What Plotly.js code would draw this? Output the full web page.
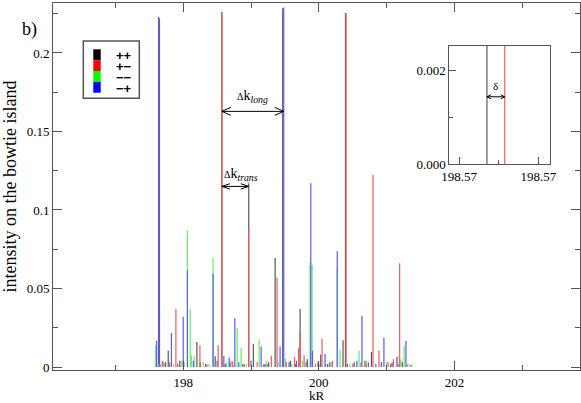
<!DOCTYPE html>
<html>
<head>
<meta charset="utf-8">
<script src="https://cdn.plot.ly/plotly-3.0.1.min.js"></script>
<style>
  html, body { margin: 0; padding: 0; background: #fff; }
  #plot { width: 581px; height: 403px; }
</style>
</head>
<body>
<div id="plot"></div>
<script>
"use strict";

// ── Series: spin configurations, stem positions (kR) and intensities ──
const seriesNames = ["++", "+\u2212", "\u2212\u2212", "\u2212+"];
const seriesColors = ["#000000", "#ff0000", "#00ff00", "#0000ff"];
// stems are drawn in a lighter tint, as the anti-aliased hairlines look
const stemColors = ["#585858", "#f25a5a", "#5ef05e", "#5a5af2"];

// ++ (black)
const kPP = [197.600, 197.638, 197.740, 197.779, 197.950, 198.202, 198.250, 198.471,
             198.56994, 198.620, 198.690, 198.966, 199.034, 199.190, 199.260, 199.355,
             199.467, 199.580, 199.660, 199.723, 199.830, 199.988, 200.027, 200.130,
             200.356, 200.392, 200.520, 200.680, 200.775, 200.920, 201.060, 201.152, 201.230];
const hPP = [0.002, 0.223, 0.003, 0.0104, 0.004, 0.016, 0.003, 0.0068,
             0.2262, 0.002, 0.003, 0.117, 0.0148, 0.002, 0.003, 0.0694,
             0.2285, 0.004, 0.002, 0.037, 0.005, 0.003, 0.008, 0.002,
             0.017, 0.2255, 0.003, 0.004, 0.0096, 0.003, 0.002, 0.0066, 0.003];

// +- (red)
const kPM = [197.660, 197.691, 197.800, 197.892, 198.010, 198.246, 198.350, 198.515,
             198.57003, 198.720, 198.732, 198.900, 198.966, 199.090, 199.210, 199.299,
             199.384, 199.520, 199.641, 199.700, 199.723, 199.782, 199.950, 200.047,
             200.200, 200.401, 200.500, 200.620, 200.700, 200.798, 200.886, 201.020,
             201.100, 201.191, 201.300];
const hPM = [0.002, 0.004, 0.003, 0.037, 0.003, 0.0138, 0.002, 0.0138,
             0.2245, 0.004, 0.003, 0.002, 0.0877, 0.003, 0.002, 0.0072,
             0.057, 0.003, 0.0065, 0.012, 0.022, 0.0075, 0.002, 0.018,
             0.004, 0.2255, 0.002, 0.003, 0.002, 0.1225, 0.0105, 0.003,
             0.005, 0.066, 0.002];

// -- (green)
const kMM = [197.594, 197.630, 197.720, 197.860, 197.980, 198.062, 198.103, 198.120,
             198.162, 198.295, 198.380, 198.440, 198.640, 198.795, 198.854, 198.930,
             199.119, 199.230, 199.400, 199.508, 199.600, 199.760, 199.870, 199.900,
             200.100, 200.180, 200.271, 200.312, 200.460, 200.592, 200.700, 201.000,
             201.210, 201.257, 201.330];
const hMM = [0.0135, 0.002, 0.003, 0.002, 0.004, 0.0868, 0.037, 0.0075,
             0.007, 0.003, 0.002, 0.0696, 0.003, 0.0248, 0.0122, 0.002,
             0.0174, 0.004, 0.003, 0.0055, 0.002, 0.004, 0.0666, 0.065,
             0.002, 0.003, 0.0626, 0.011, 0.002, 0.0105, 0.004, 0.003,
             0.005, 0.0136, 0.002];

// -+ (blue)
const kMP = [197.608, 197.650, 197.700, 197.826, 197.920, 198.000, 198.062, 198.150,
             198.330, 198.440, 198.500, 198.599, 198.677, 198.761, 198.820, 198.880,
             199.000, 199.149, 199.250, 199.428, 199.482, 199.560, 199.670, 199.811,
             199.881, 199.906, 200.000, 200.091, 200.160, 200.271, 200.420, 200.560,
             200.635, 200.730, 200.840, 200.959, 201.080, 201.180, 201.284, 201.361];
const hMP = [0.0167, 0.222, 0.003, 0.0217, 0.002, 0.032, 0.0615, 0.004,
             0.002, 0.0594, 0.004, 0.007, 0.006, 0.031, 0.003, 0.002,
             0.004, 0.013, 0.002, 0.013, 0.229, 0.003, 0.004, 0.003,
             0.117, 0.0104, 0.002, 0.0085, 0.003, 0.0737, 0.002, 0.004,
             0.0327, 0.003, 0.002, 0.0187, 0.003, 0.002, 0.0168, 0.0015];

const seriesK = [kPP, kPM, kMM, kMP];
const seriesH = [hPP, hPM, hMM, hMP];
const drawOrder = [0, 2, 3, 1];

// ── frame geometry (pixels of the 581x403 page) ──
const ML = 53, MT = 3, PW = 527, PH = 367;
const px = p => (p - ML) / PW;
const py = p => (MT + PH - p) / PH;

const xRange = [196.08, 203.85], yRange = [-0.0019, 0.2318];
const inX = [449.3, 550.3], inY = [45.7, 164.3];
const x2Range = [198.56975, 198.57026], y2Range = [0, 0.00253];

function stems(ks, hs) {
    const x = [], y = [];
    ks.forEach((k, i) => { x.push(k, k, null); y.push(0, hs[i], null); });
    return { x, y };
}

const traces = [];
["", "2"].forEach(ax => {
    drawOrder.forEach(s => {
        const st = stems(seriesK[s], seriesH[s]);
        traces.push({
            type: "scatter", mode: "lines",
            x: st.x, y: st.y,
            xaxis: "x" + ax, yaxis: "y" + ax,
            line: { color: stemColors[s], width: 1.2 },
            showlegend: false, hoverinfo: "skip",
        });
    });
});

const serif = "Liberation Serif, Times New Roman, serif";
const frame = "#555555";

// double-headed arrow with open chevron heads, as a path in data coords
function dblArrow(x0, x1, y, xref, yref, kpp, hpp, len, half) {
    const d = "M" + x0 + "," + y + "L" + x1 + "," + y +
        "M" + (x0 + len * kpp) + "," + (y + half * hpp) + "L" + x0 + "," + y +
        "L" + (x0 + len * kpp) + "," + (y - half * hpp) +
        "M" + (x1 - len * kpp) + "," + (y + half * hpp) + "L" + x1 + "," + y +
        "L" + (x1 - len * kpp) + "," + (y - half * hpp);
    return { type: "path", xref: xref, yref: yref, path: d,
             line: { color: "#000", width: 1 } };
}
const kpp1 = (xRange[1] - xRange[0]) / PW, hpp1 = (yRange[1] - yRange[0]) / PH;
const kpp2 = (x2Range[1] - x2Range[0]) / (inX[1] - inX[0]);
const hpp2 = (y2Range[1] - y2Range[0]) / (inY[1] - inY[0]);

const kRedTall = kPM[8], kBlueTall = kMP[20], kTrans = kPP[11];

const shapes = [
    dblArrow(kRedTall, kBlueTall, 0.1628, "x", "y", kpp1, hpp1, 9, 4),
    dblArrow(kRedTall, kTrans, 0.115, "x", "y", kpp1, hpp1, 8, 2.7),
    dblArrow(kPP[8], kPM[8], 0.00144, "x2", "y2", kpp2, hpp2, 4, 2),
];

const annotations = [
    { x: (kRedTall + kBlueTall) / 2, y: 0.1722, xref: "x", yref: "y",
      text: "<span style=\"font-size:10px\">\u0394</span>k<sub><i>long</i></sub>",
      showarrow: false, font: { family: serif, size: 14, color: "#000" } },
    { x: kRedTall, y: 0.1229, xref: "x", yref: "y", xanchor: "left",
      text: "<span style=\"font-size:10px\">\u0394</span>k<sub><i>trans</i></sub>",
      showarrow: false, font: { family: serif, size: 14, color: "#000" } },
    { x: (kPP[8] + kPM[8]) / 2, y: 0.00168, xref: "x2", yref: "y2",
      text: "\u03b4", showarrow: false, font: { family: serif, size: 11, color: "#000" } },
    { x: px(20), y: py(17), xref: "paper", yref: "paper", xanchor: "left",
      text: "b)", showarrow: false, font: { family: serif, size: 18, color: "#000" } },
];

// ── hand-made legend: tall colour swatches stacked in a box ──
shapes.push({
    type: "rect", xref: "paper", yref: "paper",
    x0: px(83.3), x1: px(139.3), y0: py(98.3), y1: py(41),
    line: { color: frame, width: 1.5 }, fillcolor: "#fff", layer: "below",
});
const rowTop = 49.3, rowH = 10.85;
seriesNames.forEach((name, i) => {
    const t = rowTop + i * rowH;
    shapes.push({
        type: "rect", xref: "paper", yref: "paper",
        x0: px(93.3), x1: px(100.7), y0: py(t + rowH), y1: py(t),
        line: { width: 0 }, fillcolor: seriesColors[i],
    });
});
// one text block; base size sets the row pitch, the spans set the glyph size
annotations.push({
    x: px(114), y: py(rowTop + 2 * rowH + 0.5), xref: "paper", yref: "paper",
    xanchor: "left", yanchor: "middle", showarrow: false, align: "left",
    text: seriesNames.map(n => "<span style=\"font-size:13px\"><b>" + n + "</b></span>").join("<br>"),
    font: { family: "Liberation Sans, Arial, sans-serif", size: rowH / 1.3, color: "#000" },
});

const baseAxis = {
    showline: true, linecolor: frame, linewidth: 1, mirror: "ticks",
    ticks: "inside", tickcolor: frame, ticklen: 9, tickwidth: 1,
    showgrid: false, zeroline: false,
    tickfont: { family: serif, size: 13, color: "#000" },
};

const layout = {
    width: 581, height: 403,
    margin: { l: ML, r: 581 - ML - PW, t: MT, b: 403 - MT - PH },
    paper_bgcolor: "#fff", plot_bgcolor: "#fff",
    showlegend: false,
    xaxis: Object.assign({}, baseAxis, {
        range: xRange, tickvals: [198, 200, 202],
        minor: { tickvals: [197, 199, 201, 203], ticklen: 5, ticks: "inside", tickcolor: frame },
        title: { text: "kR", font: { family: serif, size: 13, color: "#000" }, standoff: 6 },
    }),
    yaxis: Object.assign({}, baseAxis, {
        range: yRange, tickvals: [0, 0.05, 0.1, 0.15, 0.2],
        ticktext: ["0", "0.05", "0.1", "0.15", "0.2"],
        minor: { dtick: 0.025, ticklen: 5, ticks: "inside", tickcolor: frame },
        title: { text: "intensity on the bowtie island",
                 font: { family: serif, size: 18, color: "#000" }, standoff: 8 },
    }),
    xaxis2: Object.assign({}, baseAxis, {
        domain: [px(inX[0]), px(inX[1])], anchor: "y2",
        mirror: true, range: x2Range,
        tickvals: [198.5698, 198.5702], tickformat: ".2f", ticklen: 7,
        minor: { tickvals: [198.57], ticklen: 4, ticks: "inside", tickcolor: frame },
    }),
    yaxis2: Object.assign({}, baseAxis, {
        domain: [py(inY[1]), py(inY[0])], anchor: "x2",
        mirror: true, range: y2Range,
        tickvals: [0, 0.002], tickformat: ".3f", ticklen: 7,
        minor: { tickvals: [0.001], ticklen: 4, ticks: "inside", tickcolor: frame },
    }),
    annotations: annotations,
    shapes: shapes,
};

Plotly.newPlot("plot", traces, layout, { staticPlot: true, displayModeBar: false });
</script>
</body>
</html>
